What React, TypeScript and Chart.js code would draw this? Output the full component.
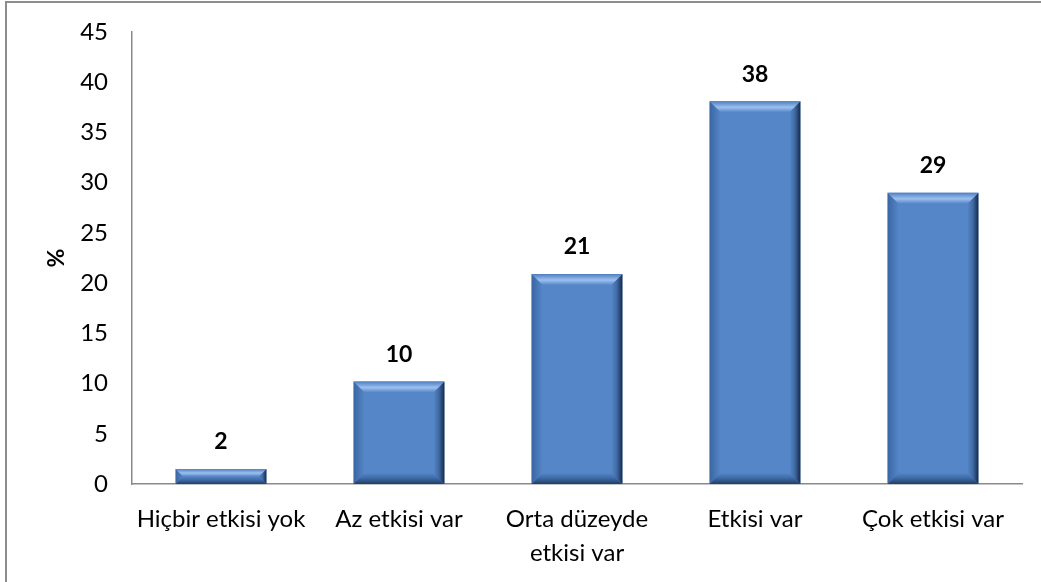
import React, { useEffect, useRef } from 'react';
import { Chart, registerables } from 'chart.js';

Chart.register(...registerables);

const categories: (string | string[])[] = [
  'Hiçbir etkisi yok',
  'Az etkisi var',
  ['Orta düzeyde', 'etkisi var'],
  'Etkisi var',
  'Çok etkisi var',
];
const values = [1.5, 10.2, 20.9, 38.1, 29.0];
const valueLabels = ['2', '10', '21', '38', '29'];
const yAxisTitle = '%';
const yMin = 0;
const yMax = 45;
const yStep = 5;

const FONT = 'Lato, "Open Sans", sans-serif';
const BAR_COLOR = '#5586c8';

const bevelPlugin = {
  id: 'bevel',
  afterDatasetsDraw(chart: any) {
    const ctx = chart.ctx as CanvasRenderingContext2D;
    const meta = chart.getDatasetMeta(0);
    meta.data.forEach((el: any) => {
      const { x, y, base, width } = el.getProps(['x', 'y', 'base', 'width'], true);
      const L = x - width / 2;
      const R = x + width / 2;
      const T = Math.min(y, base);
      const B = Math.max(y, base);
      const h = B - T;
      const b = Math.min(11, h / 2, width / 2);
      ctx.save();
      // left
      let g = ctx.createLinearGradient(L, 0, L + b, 0);
      g.addColorStop(0, '#3a66a2');
      g.addColorStop(1, BAR_COLOR);
      ctx.fillStyle = g;
      ctx.beginPath();
      ctx.moveTo(L, T);
      ctx.lineTo(L + b, T + b);
      ctx.lineTo(L + b, B - b);
      ctx.lineTo(L, B);
      ctx.closePath();
      ctx.fill();
      // right
      g = ctx.createLinearGradient(R - b, 0, R, 0);
      g.addColorStop(0, BAR_COLOR);
      g.addColorStop(0.5, '#3f6aa4');
      g.addColorStop(1, '#17294a');
      ctx.fillStyle = g;
      ctx.beginPath();
      ctx.moveTo(R, T);
      ctx.lineTo(R, B);
      ctx.lineTo(R - b, B - b);
      ctx.lineTo(R - b, T + b);
      ctx.closePath();
      ctx.fill();
      // bottom
      g = ctx.createLinearGradient(0, B - b, 0, B);
      g.addColorStop(0, BAR_COLOR);
      g.addColorStop(0.5, '#3d68a3');
      g.addColorStop(1, '#213c66');
      ctx.fillStyle = g;
      ctx.beginPath();
      ctx.moveTo(L, B);
      ctx.lineTo(R, B);
      ctx.lineTo(R - b, B - b);
      ctx.lineTo(L + b, B - b);
      ctx.closePath();
      ctx.fill();
      // top
      g = ctx.createLinearGradient(0, T, 0, T + b);
      g.addColorStop(0, '#4f7fc0');
      g.addColorStop(0.55, '#9cc0ef');
      g.addColorStop(1, BAR_COLOR);
      ctx.fillStyle = g;
      ctx.beginPath();
      ctx.moveTo(L, T);
      ctx.lineTo(R, T);
      ctx.lineTo(R - b, T + b);
      ctx.lineTo(L + b, T + b);
      ctx.closePath();
      ctx.fill();
      ctx.restore();
    });
  },
};

const labelPlugin = {
  id: 'valueLabels',
  afterDatasetsDraw(chart: any) {
    const ctx = chart.ctx as CanvasRenderingContext2D;
    const meta = chart.getDatasetMeta(0);
    ctx.save();
    ctx.font = `bold 23px ${FONT}`;
    ctx.fillStyle = '#000';
    ctx.textAlign = 'center';
    ctx.textBaseline = 'middle';
    meta.data.forEach((el: any, i: number) => {
      const { x, y } = el.getProps(['x', 'y'], true);
      ctx.fillText(valueLabels[i], x, y - 27);
    });
    // y axis title
    const area = chart.chartArea;
    ctx.translate(57, (area.top + area.bottom) / 2);
    ctx.rotate(-Math.PI / 2);
    ctx.fillText(yAxisTitle, 0, 0);
    ctx.restore();
  },
};

export default function App() {
  const ref = useRef<HTMLCanvasElement | null>(null);
  useEffect(() => {
    if (!ref.current) return;
    const chart = new Chart(ref.current, {
      type: 'bar',
      data: {
        labels: categories as any,
        datasets: [
          {
            data: values,
            backgroundColor: BAR_COLOR,
            borderWidth: 0,
            categoryPercentage: 1,
            barPercentage: 0.51,
          },
        ],
      },
      options: {
        animation: false,
        responsive: false,
        maintainAspectRatio: false,
        layout: { padding: { top: 32, right: 19, left: 0, bottom: 0 } },
        plugins: {
          legend: { display: false },
          tooltip: { enabled: false },
        },
        scales: {
          x: {
            grid: { display: false, drawTicks: false },
            border: { display: true, color: '#8a8a8a', width: 1.5 },
            ticks: {
              color: '#000',
              font: { family: FONT, size: 24, lineHeight: 1.42 },
              padding: 18,
              maxRotation: 0,
              autoSkip: false,
            },
            afterFit(scale: any) {
              scale.height = 98;
              scale.paddingLeft = 0;
              scale.paddingRight = 0;
            },
          },
          y: {
            min: yMin,
            max: yMax,
            grid: { display: false, drawTicks: false },
            border: { display: true, color: '#8a8a8a', width: 1.5 },
            ticks: {
              stepSize: yStep,
              color: '#000',
              font: { family: FONT, size: 24 },
              padding: 24,
            },
            afterFit(scale: any) {
              scale.width = 132;
              scale.paddingTop = 0;
              scale.paddingBottom = 0;
            },
          },
        },
      },
      plugins: [bevelPlugin, labelPlugin],
    });
    return () => chart.destroy();
  }, []);

  return (
    <div
      style={{
        position: 'fixed',
        left: 0,
        top: 0,
        width: 1041,
        height: 582,
        overflow: 'hidden',
        background: '#fff',
      }}
    >
      <div
        style={{
          position: 'absolute',
          left: 5,
          top: 1,
          width: 1100,
          height: 700,
          border: '2px solid #8c8c8c',
          boxSizing: 'border-box',
        }}
      />
      <canvas
        ref={ref}
        width={1041}
        height={582}
        style={{ position: 'absolute', left: 0, top: 0, width: 1041, height: 582 }}
      />
    </div>
  );
}
